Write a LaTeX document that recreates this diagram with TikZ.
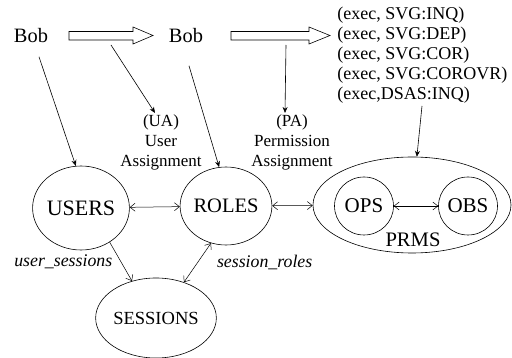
\documentclass[tikz,border=0pt]{standalone}
\usepackage{fontspec}
\setmainfont{Liberation Serif}
\usetikzlibrary{shapes.geometric,arrows.meta}
\newcommand{\pxfont}[1]{\fontsize{#1}{20}\selectfont}

\begin{document}
\begin{tikzpicture}[x=1pt, y=-1pt, line width=0.6pt,
  set/.style = {draw, ellipse, inner sep=0pt},
  txt/.style = {inner sep=1pt, font=\pxfont{17}},
  assign/.style = {-{Stealth[length=6pt,width=5pt]}},
  rel/.style = {{Straight Barb[length=5pt,width=8pt]}-{Straight Barb[length=5pt,width=8pt]}, line width=0.5pt},
  owns/.style = {-{Straight Barb[length=5pt,width=8pt]}, line width=0.5pt}]
  \useasboundingbox (0,0) rectangle (512,358);

  \node[font=\pxfont{20.4}] (bob1) at (31,36) {Bob};
  \node[font=\pxfont{20.4}] (bob2) at (186,36) {Bob};
  \node[txt, align=center] (ua) at (161,142) {(UA)\\User\\Assignment};
  \node[txt, align=center] (pa) at (292,142) {(PA)\\Permission\\Assignment};
  \node[anchor=west, align=left, inner sep=0pt, font=\pxfont{18}] (perms) at (337,55)
    {(exec, SVG:INQ)\\(exec, SVG:DEP)\\(exec, SVG:COR)\\(exec, SVG:COROVR)\\(exec,DSAS:INQ)};

  \node[set, minimum width=77pt, minimum height=84pt, font=\pxfont{22}] (users) at (81,208) {USERS};
  \node[set, minimum width=73pt, minimum height=78pt, font=\pxfont{20.5}] (roles) at (226,206) {ROLES};
  \node[set, minimum width=88pt, minimum height=80pt, font=\pxfont{18.5}] (sessions) at (156,318) {SESSIONS};
  \node[set, minimum width=198pt, minimum height=96pt] (prms) at (412,205) {};
  \node[set, minimum width=59pt, minimum height=58pt, font=\pxfont{21}] (ops) at (364,206) {OPS};
  \node[set, minimum width=59pt, minimum height=58pt, font=\pxfont{21}] (obs) at (468,206) {OBS};
  \node[font=\pxfont{20.6}] (prmsname) at (413,240) {PRMS};

  \draw (69,31.5) -- (133,31.5) -- (133,27) -- (153,35.5) -- (133,44) -- (133,40) -- (69,40) -- cycle;
  \draw (231,31.5) -- (309,31.5) -- (309,27) -- (330,35.5) -- (309,44) -- (309,40) -- (231,40) -- cycle;
  \coordinate (ua tail) at (111,45);
  \coordinate (pa tail) at (286,45);
  \coordinate (perms tail) at (422,106);

  \draw[assign] ([xshift=8pt,yshift=-10pt]bob1.south) to (users.97);
  \draw[assign] ([xshift=3pt,yshift=-19pt]bob2.south) to (roles.100);
  \draw[assign] (ua tail) to ([xshift=-6pt]ua.north);
  \draw[assign] (pa tail) to ([xshift=-7pt]pa.north);
  \draw[assign] (perms tail) to (prms);

  \draw[rel] (users) to (roles);
  \draw[rel] (roles) to (prms);
  \draw[rel] (ops) to (obs);
  \draw[owns] (users.-50) to node[left=5pt, font=\pxfont{17.8}\itshape] {user\_sessions} (sessions.123);
  \draw[rel] (sessions.52) to node[right=16pt, font=\pxfont{17.8}\itshape] {session\_roles} (roles.-112);
\end{tikzpicture}
\end{document}
